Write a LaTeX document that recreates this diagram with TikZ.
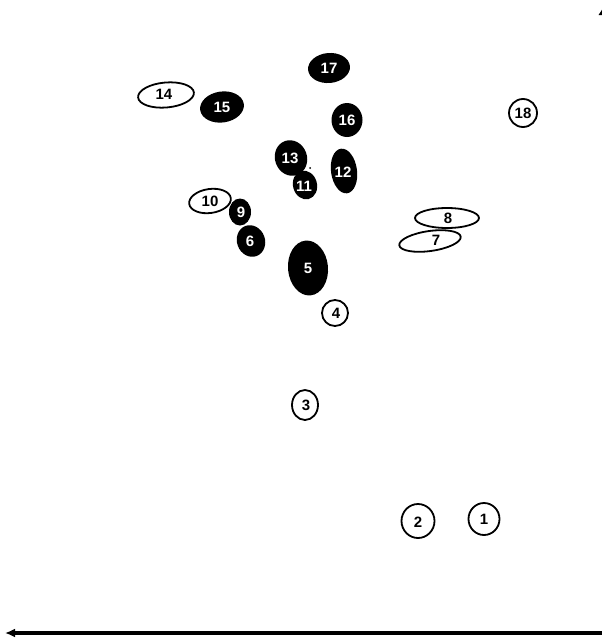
\documentclass[tikz,border=0pt]{standalone}
\usepackage{fontspec}
\setmainfont{Liberation Sans}
\usetikzlibrary{shapes.geometric,arrows.meta}
\begin{document}
\begin{tikzpicture}[x=1pt,y=-1pt,
  lab/.style={inner sep=0pt,font=\fontsize{15}{15}\selectfont\bfseries},
  wlab/.style={lab,text=white},
  rim/.style={draw=black,line width=1.8pt},
  axis/.style={line width=3.4pt,-{Latex[length=10pt,width=9pt]}},
  yaxis/.style={line width=3.2pt,-{Latex[length=11pt,width=13pt]}}]
\useasboundingbox (0,0) rectangle (602,640);
% filled blobs
\fill[rotate around={5:(329,68)}] (329,68) ellipse [x radius=21,y radius=15];
\node[wlab] (n17) at (329,68) {17};
\fill[rotate around={8:(222,107)}] (222,107) ellipse [x radius=22,y radius=15.5];
\node[wlab] (n15) at (222,107) {15};
\fill (347,120) ellipse [x radius=15.5,y radius=17];
\node[wlab] (n16) at (347,120) {16};
\fill[rotate around={20:(291,158)}] (291,158) ellipse [x radius=16,y radius=18];
\node[wlab] (n13) at (290,158) {13};
\fill[rotate around={8:(344,171)}] (344,171) ellipse [x radius=13,y radius=22.5];
\node[wlab] (n12) at (343,172) {12};
\fill[rotate around={15:(305,185)}] (305,185) ellipse [x radius=12,y radius=14.5];
\node[wlab] (n11) at (304,186) {11};
\fill (240,212) ellipse [x radius=11,y radius=13.5];
\node[wlab] (n9) at (241,212) {9};
\fill[rotate around={20:(251,241)}] (251,241) ellipse [x radius=14,y radius=16];
\node[wlab] (n6) at (250,241) {6};
\fill[rotate around={5:(308,268)}] (308,268) ellipse [x radius=20,y radius=27.5];
\node[wlab] (n5) at (308,268) {5};
\fill (310,168) circle (1pt);
% open rings
\draw[rim,rotate around={5:(166,95)}] (166,95) ellipse [x radius=28,y radius=12.5];
\node[lab] (n14) at (164,94) {14};
\draw[rim] (523,113) circle (14);
\node[lab] (n18) at (523,113) {18};
\draw[rim,rotate around={8:(210,201)}] (210,201) ellipse [x radius=21,y radius=12];
\node[lab] (n10) at (210,201) {10};
\draw[rim] (335,313) circle (13);
\node[lab] (n4) at (336,313) {4};
\draw[rim] (447,218) ellipse [x radius=32,y radius=10];
\node[lab] (n8) at (448,218) {8};
\draw[rim,rotate around={8:(430,241)}] (430,241) ellipse [x radius=31,y radius=10];
\node[lab] (n7) at (436,240) {7};
\draw[rim] (305,405) ellipse [x radius=13,y radius=15];
\node[lab] (n3) at (306,405) {3};
\draw[rim] (418,521) ellipse [x radius=16.5,y radius=17];
\node[lab] (n2) at (418,522) {2};
\draw[rim] (484,519) ellipse [x radius=15.5,y radius=16];
\node[lab] (n1) at (484,519) {1};
% axes
\coordinate (o) at (603,633);
\coordinate (xe) at (5,633);
\coordinate (yo) at (604.6,633);
\coordinate (ye) at (604.6,4);
\draw[axis] (o) -- (xe);
\draw[yaxis] (yo) -- (ye);
\end{tikzpicture}
\end{document}
